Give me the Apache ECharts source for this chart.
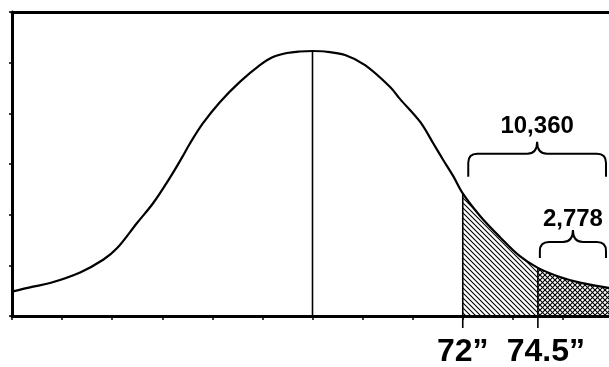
<!DOCTYPE html>
<html>
<head>
<meta charset="utf-8">
<script src="https://cdn.jsdelivr.net/npm/echarts@6/dist/echarts.min.js"></script>
<style>
  html, body { margin: 0; padding: 0; background: #fff; overflow: hidden; }
  /* plot runs a few px past the right edge, like the original */
  #chart { width: 613px; height: 367px; }
</style>
</head>
<body>
<div id="chart"></div>
<script>
// height curve; x is in tick steps from the mean (72" sits 3 steps out)
const curveX = [-6, -5.58, -5.24, -4.64, -4.18, -3.9, -3.5, -3.18, -2.84, -2.61, -2.45,
  -2.19, -1.85, -1.45, -1.05, -0.79, -0.51, -0.25, 0, 0.25, 0.65, 1.05, 1.55, 1.75, 2.15,
  2.41, 2.61, 2.81, 3, 3.35, 3.74, 4.14, 4.5, 4.94, 5.34, 6];
const curveY = [0.48, 0.58, 0.65, 0.86, 1.11, 1.34, 1.84, 2.23, 2.74, 3.12, 3.4,
  3.8, 4.22, 4.62, 4.95, 5.11, 5.19, 5.22, 5.23, 5.22, 5.15, 4.95, 4.52, 4.28, 3.83,
  3.41, 3.08, 2.76, 2.42, 1.97, 1.56, 1.18, 0.95, 0.77, 0.66, 0.54];
const meanX = 0;
const cutX = [3, 4.5];
const cutLabels = ['72\u201d', '74.5\u201d'];
const tailCounts = ['10,360', '2,778'];

// brace placement (layout only)
const braceLayout = [
  { from: 3.11, to: 5.86, level: 3.2, drop: 23, gap: 27 },
  { from: 4.54, to: 5.86, level: 1.46, drop: 16, gap: 23 },
];
const labelShift = [0, 8];

const FONT = "'Liberation Sans', Arial, sans-serif";

function yAt(x) {
  return curveY[curveX.indexOf(x)];
}

function tail(from) {
  const out = [];
  curveX.forEach((x, i) => { if (x >= from) out.push([x, curveY[i]]); });
  return out;
}

function hatch(back) {
  const s = 5;
  const c = document.createElement('canvas');
  c.width = c.height = s;
  const g = c.getContext('2d');
  g.strokeStyle = '#000';
  g.lineWidth = 1.1;
  g.beginPath();
  if (back) {
    g.moveTo(0, 0); g.lineTo(s, s);
    g.moveTo(-1, s - 1); g.lineTo(1, s + 1);
    g.moveTo(s - 1, -1); g.lineTo(s + 1, 1);
  } else {
    g.moveTo(0, s); g.lineTo(s, 0);
    g.moveTo(-1, 1); g.lineTo(1, -1);
    g.moveTo(s - 1, s + 1); g.lineTo(s + 1, s - 1);
  }
  g.stroke();
  return c;
}

const chart = echarts.init(document.getElementById('chart'), null, { renderer: 'canvas' });

const axisLine = { show: true, onZero: false, lineStyle: { color: '#000', width: 3 } };
const smooth = 0.35;

chart.setOption({
  animation: false,
  grid: { left: 12, right: 0, top: 12, bottom: 51 },
  xAxis: [
    {
      type: 'value', min: -6, max: 6, interval: 1,
      axisLine,
      axisTick: { show: true, length: 4, lineStyle: { color: '#000', width: 1.5 } },
      axisLabel: { show: false },
      splitLine: { show: false },
    },
    {
      type: 'value', position: 'top', min: -6, max: 6, interval: 1,
      axisLine,
      axisTick: { show: false },
      axisLabel: { show: false },
      splitLine: { show: false },
    },
  ],
  yAxis: {
    type: 'value', min: 0, max: 6, interval: 1,
    axisLine,
    axisTick: { show: true, length: 3, lineStyle: { color: '#000', width: 1.5 } },
    axisLabel: { show: false },
    splitLine: { show: false },
  },
  series: [
    {
      type: 'line', data: tail(cutX[0]), smooth, showSymbol: false,
      lineStyle: { width: 0 },
      areaStyle: { color: { image: hatch(true), repeat: 'repeat' }, opacity: 1 },
      z: 1,
    },
    {
      type: 'line', data: tail(cutX[1]), smooth, showSymbol: false,
      lineStyle: { width: 0 },
      areaStyle: { color: { image: hatch(false), repeat: 'repeat' }, opacity: 1 },
      z: 2,
    },
    {
      type: 'line', data: curveX.map((x, i) => [x, curveY[i]]), smooth, showSymbol: false,
      lineStyle: { color: '#000', width: 2.2 },
      z: 5,
    },
    {
      // mean line and the two cut-offs with their labels
      type: 'custom', clip: false, z: 4,
      data: [[meanX, yAt(meanX), -1], ...cutX.map((x, i) => [x, yAt(x), i])],
      renderItem(params, api) {
        const x = api.value(0);
        const idx = api.value(2);
        const top = api.coord([x, api.value(1)]);
        const base = api.coord([x, 0]);
        const ext = idx < 0 ? 0 : 12;
        const children = [{
          type: 'line',
          shape: { x1: top[0], y1: top[1], x2: base[0], y2: base[1] + ext },
          style: { stroke: '#000', lineWidth: 1.6 },
        }];
        if (idx >= 0) {
          children.push({
            type: 'text',
            x: base[0] + labelShift[idx],
            y: base[1] + 36,
            style: {
              text: cutLabels[idx], fill: '#000',
              font: 'bold 32px ' + FONT,
              align: 'center', verticalAlign: 'middle',
            },
          });
        }
        return { type: 'group', children };
      },
    },
    {
      // braces over the tails with their counts
      type: 'custom', clip: false, z: 6,
      data: tailCounts.map((t, i) => [braceLayout[i].from, braceLayout[i].to, i]),
      renderItem(params, api) {
        const i = api.value(2);
        const b = braceLayout[i];
        const p0 = api.coord([api.value(0), b.level]);
        const p1 = api.coord([api.value(1), b.level]);
        const x0 = p0[0], x1 = p1[0], ym = p0[1];
        const xc = (x0 + x1) / 2;
        const yb = ym + b.drop, yt = ym - 12;
        const r = 9, c = 10;
        const d = `M${x0} ${yb} L${x0} ${ym + r} Q${x0} ${ym} ${x0 + r} ${ym} ` +
          `L${xc - c} ${ym} Q${xc} ${ym} ${xc} ${yt} Q${xc} ${ym} ${xc + c} ${ym} ` +
          `L${x1 - r} ${ym} Q${x1} ${ym} ${x1} ${ym + r} L${x1} ${yb}`;
        return {
          type: 'group',
          children: [
            {
              type: 'path', shape: { pathData: d },
              style: { stroke: '#000', lineWidth: 2, fill: null },
            },
            {
              type: 'text', x: xc, y: yt - b.gap + 12,
              style: {
                text: tailCounts[i], fill: '#000',
                font: 'bold 24px ' + FONT,
                align: 'center', verticalAlign: 'middle',
              },
            },
          ],
        };
      },
    },
  ],
});
</script>
</body>
</html>
